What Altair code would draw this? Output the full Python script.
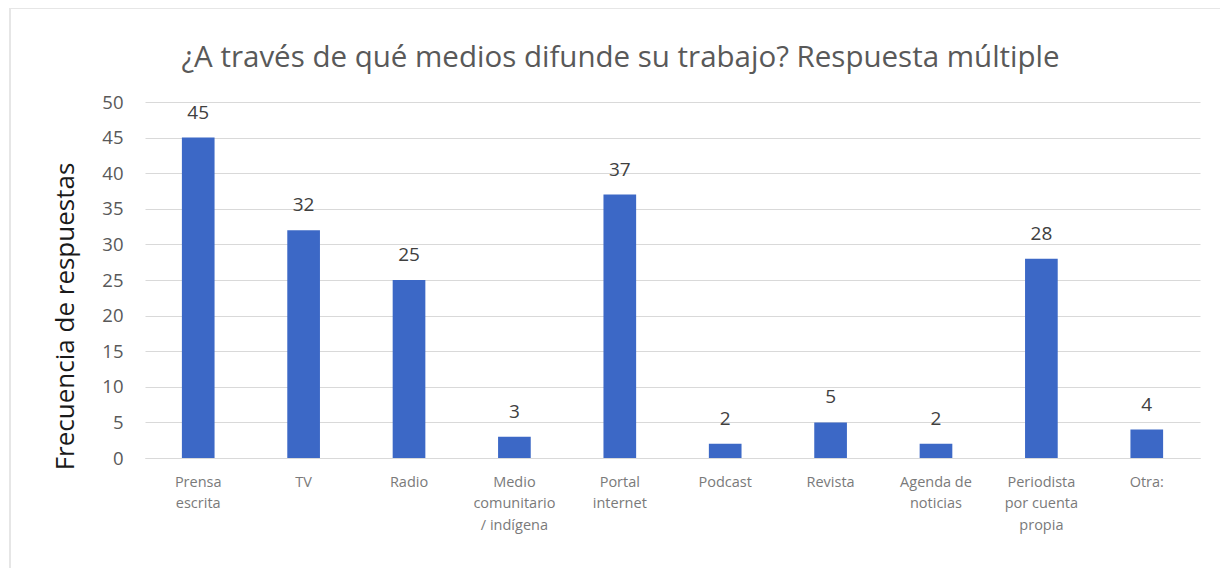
import altair as alt
import pandas as pd

categories = ["Prensa\nescrita", "TV", "Radio", "Medio\ncomunitario\n/ indígena",
              "Portal\ninternet", "Podcast", "Revista", "Agenda de\nnoticias",
              "Periodista\npor cuenta\npropia", "Otra:"]
values = [45, 32, 25, 3, 37, 2, 5, 2, 28, 4]
y_ticks = [0, 5, 10, 15, 20, 25, 30, 35, 40, 45, 50]

df = pd.DataFrame({"cat": categories, "val": values})

FONT = "Open Sans"

base = alt.Chart(df).encode(
    x=alt.X("cat:N", sort=categories,
            scale=alt.Scale(paddingInner=0.69, paddingOuter=0.35),
            axis=alt.Axis(title=None, labelAngle=0, labelExpr="split(datum.label, '\\n')",
                          labelFontSize=14.5, labelColor="#7a7a7a", labelLineHeight=21.5,
                          labelPadding=17, ticks=False, domain=True, domainColor="#d9d9d9",
                          labelFont=FONT, labelBaseline="top")),
    y=alt.Y("val:Q", scale=alt.Scale(domain=[0, 50], nice=False),
            axis=alt.Axis(title="Frecuencia de respuestas", values=y_ticks,
                          titleFontSize=26, titleFontWeight="normal", titleColor="#1a1a1a",
                          titleFont=FONT, titleY=214, titleX=-67,
                          labelFontSize=18.5, labelColor="#595959", labelFont=FONT,
                          labelPadding=22, ticks=False, domain=False,
                          gridColor="#d9d9d9", gridWidth=1.2)),
)

bars = base.mark_bar(color="#3c68c6")
labels = base.mark_text(dy=-25, fontSize=19, color="#404040", font=FONT).encode(text="val:Q")

frame = alt.Chart(df).mark_rect(fill=None, stroke="#e6e6e6", strokeWidth=1.5).encode(
    x=alt.value(-135), x2=alt.value(1081), y=alt.value(-94), y2=alt.value(468))

chart = alt.layer(frame, bars, labels).properties(
    width=1055, height=356,
    title=alt.TitleParams("¿A través de qué medios difunde su trabajo? Respuesta múltiple",
                          fontSize=29.5, fontWeight="normal", color="#595959", font=FONT,
                          anchor="middle", dx=-52, offset=-66),
    autosize=alt.AutoSizeParams(type="none"),
    padding={"left": 137, "top": 94, "right": 20, "bottom": 110},
).configure(background="white").configure_view(stroke=None)

chart.save("out.html", embed_options={"renderer": "svg", "actions": False})
